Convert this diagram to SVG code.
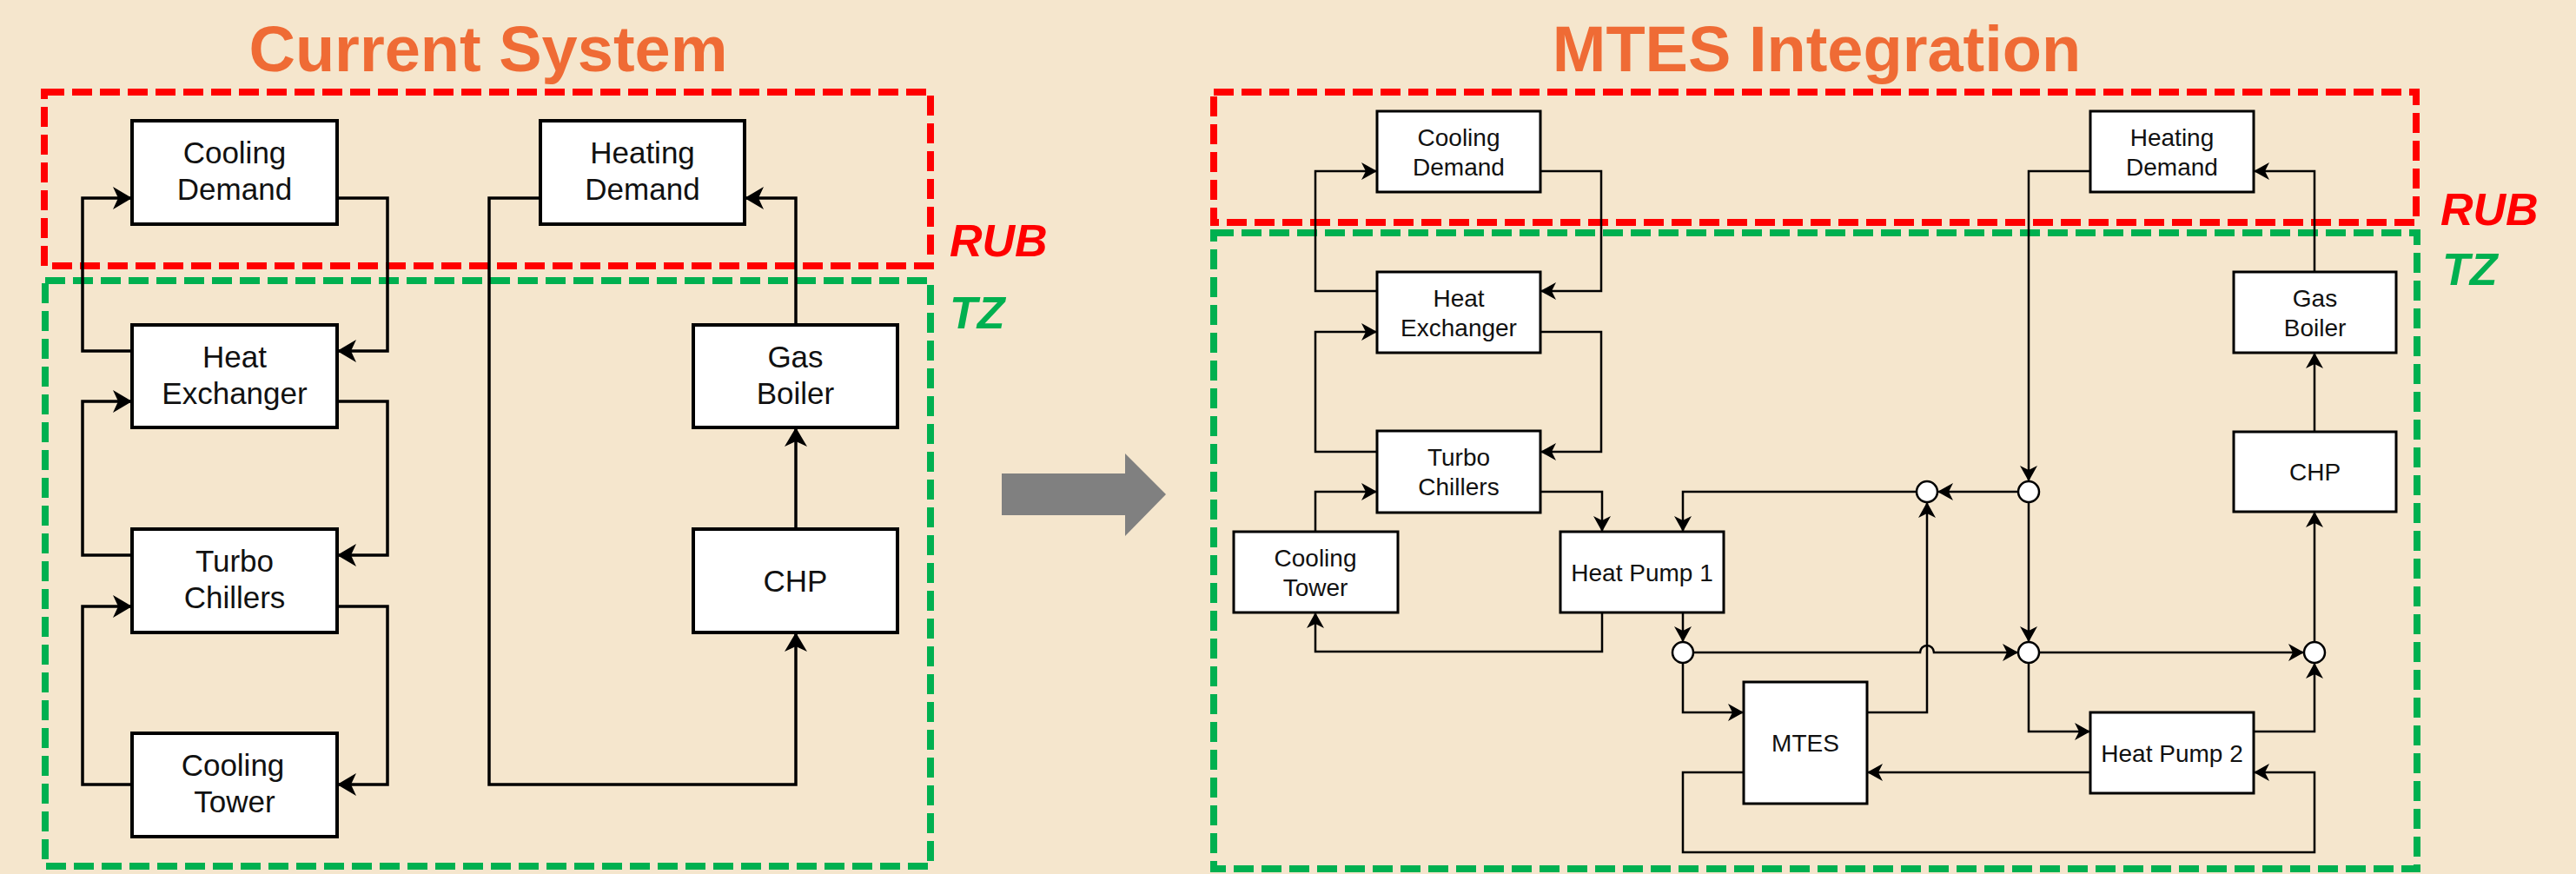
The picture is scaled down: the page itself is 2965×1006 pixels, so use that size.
<svg xmlns="http://www.w3.org/2000/svg" width="2965" height="1006" viewBox="0 0 2965 1006">
<style>
.title{font-family:"Liberation Sans",Arial,sans-serif;font-weight:bold;font-size:74px;fill:#EF6B35;text-anchor:middle}
.zone{font-family:"Liberation Sans",Arial,sans-serif;font-weight:bold;font-style:italic;font-size:52px}
.rub{fill:#FF0000}
.tz{fill:#00B050}
.boxL{fill:#FFFFFF;stroke:#000;stroke-width:4}
.boxR{fill:#FFFFFF;stroke:#000;stroke-width:3}
.tL{font-family:"Liberation Sans",Arial,sans-serif;font-size:35px;fill:#111;text-anchor:middle}
.tR{font-family:"Liberation Sans",Arial,sans-serif;font-size:28px;fill:#111;text-anchor:middle}
.cL{fill:none;stroke:#000;stroke-width:3.5;marker-end:url(#aL)}
.cR{fill:none;stroke:#000;stroke-width:2.5;marker-end:url(#aR)}
.cRn{fill:none;stroke:#000;stroke-width:2.5}
.jn{fill:#FFFFFF;stroke:#000;stroke-width:2.5}
.dashR{fill:none;stroke:#FF0000;stroke-width:8;stroke-dasharray:23 9}
.dashG{fill:none;stroke:#00B050;stroke-width:8;stroke-dasharray:23 9}
</style>
<defs>
<marker id="aL" markerWidth="24" markerHeight="28" refX="22" refY="13" orient="auto" markerUnits="userSpaceOnUse"><path d="M0,0 L22,13 L0,26 L6,13 Z" fill="#000"/></marker>
<marker id="aR" markerWidth="20" markerHeight="22" refX="18" refY="10" orient="auto" markerUnits="userSpaceOnUse"><path d="M0,0 L18,10 L0,20 L5,10 Z" fill="#000"/></marker>
</defs>
<rect x="0" y="0" width="2965" height="1006" fill="#F5E6CD"/>

<text class="title" x="562" y="82">Current System</text>
<text class="title" x="2091" y="82">MTES Integration</text>

<g id="zones">
<rect class="dashR" x="51" y="106" width="1020" height="200"/>
<rect class="dashG" x="52" y="323" width="1019" height="674"/>
<text class="zone rub" x="1093" y="295">RUB</text>
<text class="zone tz" x="1093" y="378">TZ</text>
<rect class="dashR" x="1397" y="106" width="1384" height="150"/>
<rect class="dashG" x="1397" y="268" width="1385" height="732"/>
<text class="zone rub" x="2809" y="259">RUB</text>
<text class="zone tz" x="2811" y="328">TZ</text>
</g>

<g id="big-arrow">
<path d="M1153,545 L1295,545 L1295,522 L1342,569 L1295,617 L1295,593 L1153,593 Z" fill="#808080"/>
</g>

<g id="connectors">
<path class="cL" d="M388,228 L446,228 L446,404 L388,404"/>
<path class="cL" d="M152,404 L95,404 L95,228 L152,228"/>
<path class="cL" d="M388,462 L446,462 L446,639 L388,639"/>
<path class="cL" d="M152,639 L95,639 L95,462 L152,462"/>
<path class="cL" d="M388,698 L446,698 L446,903 L388,903"/>
<path class="cL" d="M152,903 L95,903 L95,698 L152,698"/>
<path class="cL" d="M622,228 L563,228 L563,903 L916,903 L916,728"/>
<path class="cL" d="M916,609 L916,492"/>
<path class="cL" d="M916,374 L916,228 L857,228"/>

<path class="cR" d="M1773,197 L1843,197 L1843,335 L1773,335"/>
<path class="cR" d="M1585,335 L1514,335 L1514,197 L1585,197"/>
<path class="cR" d="M1773,382 L1843,382 L1843,520 L1773,520"/>
<path class="cR" d="M1585,520 L1514,520 L1514,382 L1585,382"/>
<path class="cR" d="M1773,566 L1844,566 L1844,612"/>
<path class="cR" d="M1514,612 L1514,566 L1585,566"/>
<path class="cR" d="M1844,705 L1844,750 L1514,750 L1514,705"/>
<path class="cR" d="M1937,705 L1937,739"/>
<path class="cR" d="M2406,197 L2335,197 L2335,554"/>
<path class="cR" d="M2335,578 L2335,739"/>
<path class="cR" d="M2323,566 L2230,566"/>
<path class="cR" d="M2206,566 L1937,566 L1937,612"/>
<path class="cR" d="M2149,820 L2218,820 L2218,578"/>
<path class="cR" d="M1949,751 L2210,751 A8,8 0 0 1 2226,751 L2323,751"/>
<path class="cR" d="M1937,763 L1937,820 L2007,820"/>
<path class="cR" d="M2335,763 L2335,842 L2406,842"/>
<path class="cR" d="M2347,751 L2652,751"/>
<path class="cR" d="M2594,842 L2664,842 L2664,763"/>
<path class="cR" d="M2664,739 L2664,589"/>
<path class="cR" d="M2664,497 L2664,406"/>
<path class="cR" d="M2664,313 L2664,197 L2594,197"/>
<path class="cR" d="M2406,889 L2149,889"/>
<path class="cR" d="M2007,889 L1937,889 L1937,981 L2664,981 L2664,889 L2594,889"/>
</g>

<g id="L-cooling-demand"><rect class="boxL" x="152" y="139" width="236" height="119"/><text class="tL" x="270" y="188">Cooling</text><text class="tL" x="270" y="230">Demand</text></g>
<g id="L-heating-demand"><rect class="boxL" x="622" y="139" width="235" height="119"/><text class="tL" x="739.5" y="188">Heating</text><text class="tL" x="739.5" y="230">Demand</text></g>
<g id="L-heat-exchanger"><rect class="boxL" x="152" y="374" width="236" height="118"/><text class="tL" x="270" y="423">Heat</text><text class="tL" x="270" y="465">Exchanger</text></g>
<g id="L-gas-boiler"><rect class="boxL" x="798" y="374" width="235" height="118"/><text class="tL" x="915.5" y="423">Gas</text><text class="tL" x="915.5" y="465">Boiler</text></g>
<g id="L-turbo-chillers"><rect class="boxL" x="152" y="609" width="236" height="119"/><text class="tL" x="270" y="658">Turbo</text><text class="tL" x="270" y="700">Chillers</text></g>
<g id="L-chp"><rect class="boxL" x="798" y="609" width="235" height="119"/><text class="tL" x="915.5" y="681">CHP</text></g>
<g id="L-cooling-tower"><rect class="boxL" x="152" y="844" width="236" height="119"/><text class="tL" x="268" y="893">Cooling</text><text class="tL" x="270" y="935">Tower</text></g>

<g id="R-cooling-demand"><rect class="boxR" x="1585" y="128" width="188" height="93"/><text class="tR" x="1679" y="168">Cooling</text><text class="tR" x="1679" y="202">Demand</text></g>
<g id="R-heat-exchanger"><rect class="boxR" x="1585" y="313" width="188" height="93"/><text class="tR" x="1679" y="353">Heat</text><text class="tR" x="1679" y="387">Exchanger</text></g>
<g id="R-turbo-chillers"><rect class="boxR" x="1585" y="496" width="188" height="94"/><text class="tR" x="1679" y="536">Turbo</text><text class="tR" x="1679" y="570">Chillers</text></g>
<g id="R-cooling-tower"><rect class="boxR" x="1420" y="612" width="189" height="93"/><text class="tR" x="1514" y="652">Cooling</text><text class="tR" x="1514" y="686">Tower</text></g>
<g id="R-heat-pump-1"><rect class="boxR" x="1796" y="612" width="188" height="93"/><text class="tR" x="1890" y="669">Heat Pump 1</text></g>
<g id="R-heating-demand"><rect class="boxR" x="2406" y="128" width="188" height="93"/><text class="tR" x="2500" y="168">Heating</text><text class="tR" x="2500" y="202">Demand</text></g>
<g id="R-gas-boiler"><rect class="boxR" x="2571" y="313" width="187" height="93"/><text class="tR" x="2664.5" y="353">Gas</text><text class="tR" x="2664.5" y="387">Boiler</text></g>
<g id="R-chp"><rect class="boxR" x="2571" y="497" width="187" height="92"/><text class="tR" x="2664.5" y="553">CHP</text></g>
<g id="R-mtes"><rect class="boxR" x="2007" y="785" width="142" height="140"/><text class="tR" x="2078" y="865">MTES</text></g>
<g id="R-heat-pump-2"><rect class="boxR" x="2406" y="820" width="188" height="93"/><text class="tR" x="2500" y="877">Heat Pump 2</text></g>

<g id="junctions">
<ellipse class="jn" cx="2218" cy="566" rx="12" ry="12"/>
<ellipse class="jn" cx="2335" cy="566" rx="12" ry="12"/>
<ellipse class="jn" cx="1937" cy="751" rx="12" ry="12"/>
<ellipse class="jn" cx="2335" cy="751" rx="12" ry="12"/>
<ellipse class="jn" cx="2664" cy="751" rx="12" ry="12"/>
</g>
</svg>
